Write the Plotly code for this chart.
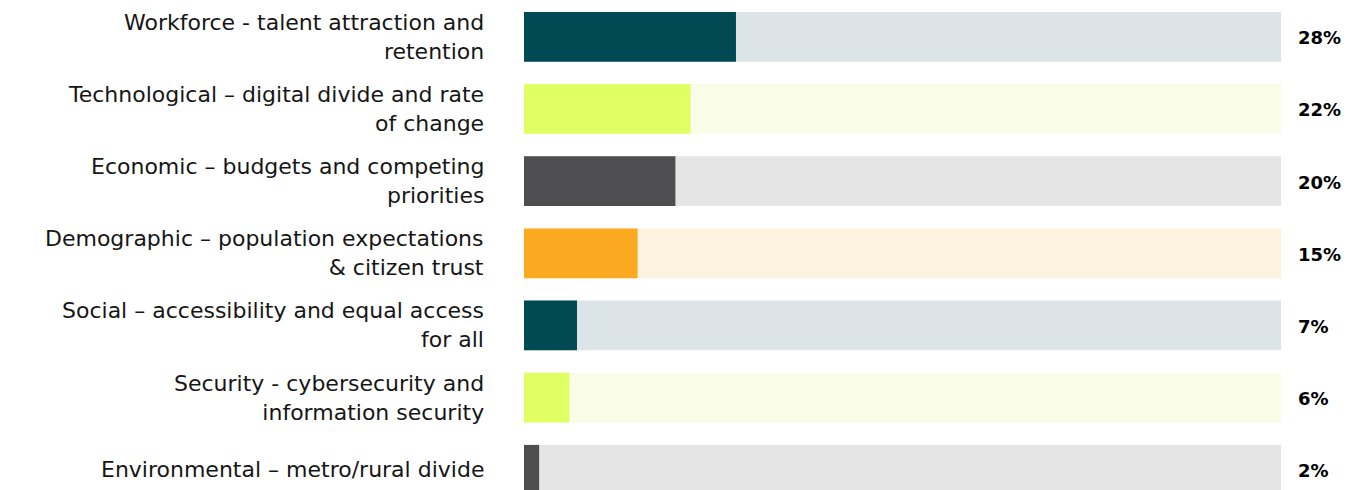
import plotly.graph_objects as go

categories = [
    "Workforce - talent attraction and<br>retention",
    "Technological – digital divide and rate<br>of change",
    "Economic – budgets and competing<br>priorities",
    "Demographic – population expectations<br>& citizen trust",
    "Social – accessibility and equal access<br>for all",
    "Security - cybersecurity and<br>information security",
    "Environmental – metro/rural divide",
]
values = [28, 22, 20, 15, 7, 6, 2]
total = 100

bar_colors = ["#024A53", "#E0FF62", "#4E4E50", "#FAA920", "#024A53", "#E0FF62", "#4E4E50"]
track_colors = ["#DCE4E7", "#F9FDE8", "#E5E5E5", "#FDF1DF", "#DCE4E7", "#F9FDE8", "#E5E5E5"]

FONT = "DejaVu Sans"
rows = list(range(len(categories)))

fig = go.Figure()
fig.add_trace(go.Bar(
    y=rows, x=[total] * len(rows), orientation="h",
    marker=dict(color=track_colors, line=dict(width=0)),
    width=0.69, hoverinfo="skip", showlegend=False,
))
fig.add_trace(go.Bar(
    y=rows, x=values, orientation="h",
    marker=dict(color=bar_colors, line=dict(width=0)),
    width=0.69, showlegend=False,
))

annotations = []
for i, (cat, v) in enumerate(zip(categories, values)):
    annotations.append(dict(
        x=0, y=i, xref="paper", yref="y", text=cat, showarrow=False,
        xanchor="right", yanchor="middle", align="right", xshift=-38,
        font=dict(family=FONT, size=22, color="#161616"),
    ))
    annotations.append(dict(
        x=total, y=i, xref="x", yref="y", text=f"<b>{v}%</b>", showarrow=False,
        xanchor="left", yanchor="middle", xshift=15, yshift=-1,
        font=dict(family=FONT, size=18, color="#000000"),
    ))

fig.update_layout(
    width=1347, height=490,
    margin=dict(l=524, r=66, t=0, b=0),
    barmode="overlay",
    plot_bgcolor="white", paper_bgcolor="white",
    xaxis=dict(range=[0, total], visible=False, fixedrange=True),
    yaxis=dict(range=[6.28, -0.51], visible=False, fixedrange=True),
    annotations=annotations,
)

fig.write_html("out.html", config={"displayModeBar": False},
               post_script="document.body.style.margin='0';")
